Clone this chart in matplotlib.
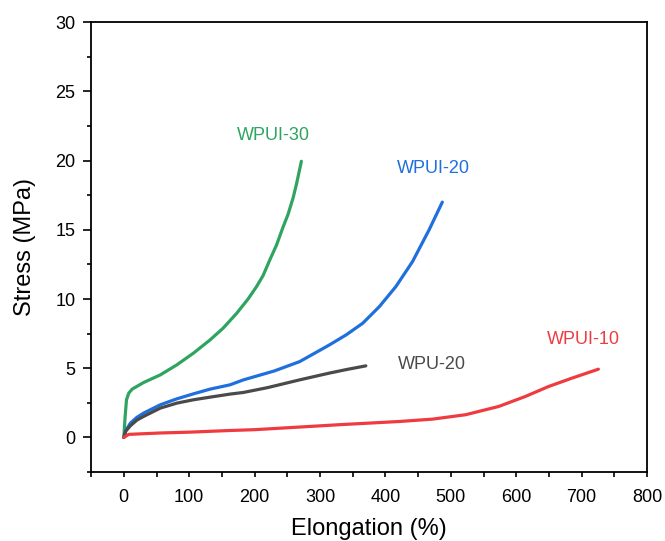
import matplotlib
matplotlib.use('Agg')
from matplotlib import pyplot as plt
from matplotlib.ticker import MultipleLocator
import numpy as np

plt.rcParams['font.family'] = ['Liberation Sans', 'DejaVu Sans']

# 读取曲线数据 (伸长率 %, 应力 MPa)
wpui30_x = [0, 2, 4.1, 7.6, 12.8, 30.4, 55.9, 81.3, 106.5, 132, 152, 172.6, 190,
            203, 213, 223, 233.5, 243.5, 251, 258.8, 264, 271.5]
wpui30_y = [0, 1.5, 2.72, 3.2, 3.49, 3.97, 4.52, 5.25, 6.09, 7.05, 7.9, 8.97, 10.0,
            10.9, 11.7, 12.8, 13.9, 15.2, 16.1, 17.3, 18.3, 19.95]

wpui20_x = [0, 3, 10.2, 20, 30.4, 55.9, 81.3, 106.5, 132, 162.4, 183, 230, 269,
            314.6, 340, 365.3, 390.7, 416, 441.4, 466.8, 487]
wpui20_y = [0, 0.5, 1.04, 1.45, 1.76, 2.36, 2.79, 3.15, 3.49, 3.8, 4.16, 4.8, 5.48,
            6.69, 7.41, 8.25, 9.45, 10.9, 12.7, 15.0, 17.0]

wpu20_x = [0, 3, 10.2, 20, 30.4, 55.9, 81.3, 106.5, 132, 162.4, 183, 220, 269,
           314.6, 340, 370]
wpu20_y = [0, 0.45, 0.85, 1.25, 1.52, 2.12, 2.48, 2.72, 2.91, 3.13, 3.25, 3.6, 4.16,
           4.65, 4.9, 5.17]

wpui10_x = [0, 7.6, 55.9, 100, 162.4, 200, 269, 330, 421, 471.8, 522.7, 573.4,
            614, 649.5, 685, 725.6]
wpui10_y = [0, 0.22, 0.32, 0.38, 0.5, 0.56, 0.75, 0.92, 1.15, 1.32, 1.64, 2.24,
            2.96, 3.68, 4.28, 4.93]

names = ['WPUI-30', 'WPUI-20', 'WPU-20', 'WPUI-10']
colors = ['#2ea460', '#1f6fdc', '#4a4a4a', '#ef3b40']
label_pos = [(229, 21.8), (474, 19.45), (471, 5.25), (702, 7.05)]

fig = plt.figure(figsize=(6.65, 5.41), dpi=100)
ax = fig.add_axes([0.137, 0.1275, 0.836, 0.8315])

curves = [(wpui30_x, wpui30_y), (wpui20_x, wpui20_y), (wpu20_x, wpu20_y), (wpui10_x, wpui10_y)]
for (x, y), c in zip(curves, colors):
    ax.plot(x, y, color=c, lw=2.3, solid_capstyle='round', solid_joinstyle='round')

for name, c, (tx, ty) in zip(names, colors, label_pos):
    ax.text(tx, ty, name, color=c, fontsize=13, ha='center', va='center')

ax.set_xlim(-50, 800)
ax.set_ylim(-2.5, 30)
ax.xaxis.set_major_locator(MultipleLocator(100))
ax.xaxis.set_minor_locator(MultipleLocator(50))
ax.yaxis.set_major_locator(MultipleLocator(5))
ax.yaxis.set_minor_locator(MultipleLocator(2.5))
ax.tick_params(axis='x', which='both', direction='out', length=3.5, width=1.2,
               labelsize=13, pad=8.5)
ax.tick_params(axis='y', which='major', direction='out', length=5.8, width=1.2,
               labelsize=13, pad=5.5)
ax.tick_params(axis='y', which='minor', direction='out', length=3, width=1.2)
for s in ax.spines.values():
    s.set_linewidth(1.3)

ax.set_xlabel('Elongation (%)', fontsize=17, labelpad=9)
ax.set_ylabel('Stress (MPa)', fontsize=17, labelpad=14)

fig.savefig('out.png', dpi=100)
